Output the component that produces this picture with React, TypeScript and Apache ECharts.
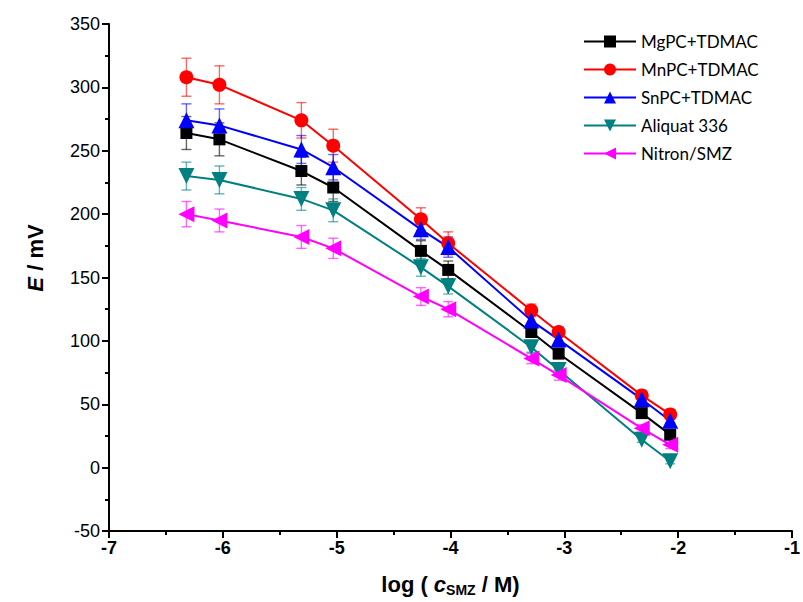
import React, { useEffect, useRef } from "react";
import * as echarts from "echarts";

const logC = [-6.32, -6.03, -5.31, -5.03, -4.26, -4.02, -3.29, -3.05, -2.32, -2.07];

const seriesNames = ["MgPC+TDMAC", "MnPC+TDMAC", "SnPC+TDMAC", "Aliquat 336", "Nitron/SMZ"];

const mgpc = [264, 259, 234, 221, 171, 156, 107, 90, 43, 26];
const mnpc = [308, 302, 274, 254, 196, 177, 124, 107, 57, 42];
const snpc = [274, 270, 251, 237, 188, 174, 116, 101, 54, 37];
const aliquat = [230, 227, 212, 203, 158, 143, 95, 77, 22, 5];
const nitron = [200, 195, 182, 173, 135, 125, 86, 73, 31, 18];

const mgpcErr = [13, 13, 11, 11, 8, 7, 4, 4, 3, 2];
const mnpcErr = [15, 15, 14, 13, 9, 9, 5, 4, 3, 2];
const snpcErr = [13, 13, 11, 10, 8, 8, 4, 4, 3, 2];
const aliquatErr = [11, 11, 9, 9, 7, 6, 4, 3, 2, 2];
const nitronErr = [10, 9, 9, 8, 7, 6, 4, 4, 3, 3];

const colors = ["#000000", "#ff0000", "#0000ff", "#008080", "#ff00ff"];
const symbols = ["rect", "circle", "triangle", "triangle", "triangle"];
const rotations = [0, 0, 0, 180, 90];
const sizes = [12, 14, 16, 16, 16];

const allValues = [mgpc, mnpc, snpc, aliquat, nitron];
const allErrs = [mgpcErr, mnpcErr, snpcErr, aliquatErr, nitronErr];

export default function App() {
  const ref = useRef<HTMLDivElement>(null);
  useEffect(() => {
    if (!ref.current) return;
    const chart = echarts.init(ref.current, null, { renderer: "svg" });

    const lineSeries: any[] = seriesNames.map((name, i) => ({
      name,
      type: "line",
      data: logC.map((x, j) => [x, allValues[i][j]]),
      symbol: symbols[i],
      symbolSize: sizes[i],
      symbolRotate: rotations[i],
      lineStyle: { color: colors[i], width: 2 },
      itemStyle: { color: colors[i] },
      z: 3,
    }));

    const errSeries: any[] = seriesNames.map((name, i) => ({
      name: "err-" + name,
      type: "custom",
      data: logC.map((x, j) => [x, allValues[i][j], allErrs[i][j]]),
      encode: { x: 0, y: 1 },
      z: 2,
      renderItem: (params: any, api: any) => {
        const x = api.value(0);
        const y = api.value(1);
        const e = api.value(2);
        const top = api.coord([x, y + e]);
        const bot = api.coord([x, y - e]);
        const hw = 5;
        const style = { stroke: colors[i], lineWidth: 1.4, opacity: 0.6 };
        return {
          type: "group",
          children: [
            { type: "line", shape: { x1: top[0], y1: top[1], x2: bot[0], y2: bot[1] }, style },
            { type: "line", shape: { x1: top[0] - hw, y1: top[1], x2: top[0] + hw, y2: top[1] }, style },
            { type: "line", shape: { x1: bot[0] - hw, y1: bot[1], x2: bot[0] + hw, y2: bot[1] }, style },
          ],
        };
      },
    }));

    chart.setOption({
      animation: false,
      backgroundColor: "#ffffff",
      grid: { left: 109, right: 0, top: 24, bottom: 66, containLabel: false },
      legend: {
        orient: "vertical",
        left: 578,
        top: 28,
        data: seriesNames,
        itemWidth: 52,
        itemHeight: 15,
        itemGap: 11,
        textStyle: { fontFamily: "Lato", fontSize: 17, color: "#000" },
      },
      graphic: [
        {
          type: "text",
          x: 35,
          y: 258,
          rotation: Math.PI / 2,
          style: {
            text: "{i|E} / mV",
            align: "center",
            verticalAlign: "middle",
            fontFamily: "Liberation Sans",
            fontWeight: "bold",
            fontSize: 22,
            fill: "#000",
            rich: {
              i: { fontFamily: "Liberation Sans", fontWeight: "bold", fontStyle: "italic", fontSize: 22, fill: "#000" },
            },
          },
        },
      ],
      xAxis: {
        type: "value",
        min: -7,
        max: -1,
        interval: 1,
        axisLine: { show: true, onZero: false, lineStyle: { color: "#000", width: 2 } },
        axisTick: { show: true, length: 7, lineStyle: { color: "#000", width: 2 } },
        minorTick: { show: true, splitNumber: 2, length: 4, lineStyle: { color: "#000", width: 2 } },
        splitLine: { show: false },
        axisLabel: {
          color: "#000",
          fontFamily: "Liberation Sans",
          fontWeight: "bold",
          fontSize: 18,
          margin: 8,
          formatter: "{b|{value}}",
          rich: {
            b: { fontFamily: "Liberation Sans", fontWeight: "bold", fontSize: 18, color: "#000" },
          },
        },
        name: "log ( {i|c}{sub|SMZ} / M)",
        nameLocation: "middle",
        nameGap: 40,
        nameTextStyle: {
          fontFamily: "Liberation Sans",
          fontWeight: "bold",
          fontSize: 22,
          color: "#000",
          rich: {
            i: { fontFamily: "Liberation Sans", fontWeight: "bold", fontStyle: "italic", fontSize: 22, color: "#000" },
            sub: { fontFamily: "Liberation Sans", fontWeight: "bold", fontSize: 14, color: "#000", verticalAlign: "bottom", padding: [12, 0, 0, 0] },
          },
        },
      },
      yAxis: {
        type: "value",
        min: -50,
        max: 350,
        interval: 50,
        axisLine: { show: true, onZero: false, lineStyle: { color: "#000", width: 2 } },
        axisTick: { show: true, length: 7, lineStyle: { color: "#000", width: 2 } },
        minorTick: { show: true, splitNumber: 2, length: 4, lineStyle: { color: "#000", width: 2 } },
        splitLine: { show: false },
        axisLabel: {
          color: "#000",
          fontFamily: "Liberation Sans",
          fontSize: 18,
          margin: 9,
        },
      },
      series: [...errSeries, ...lineSeries],
    });
    return () => chart.dispose();
  }, []);
  return (
    <div
      ref={ref}
      style={{ position: "fixed", left: 0, top: 0, width: 803, height: 602, background: "#fff" }}
    />
  );
}
